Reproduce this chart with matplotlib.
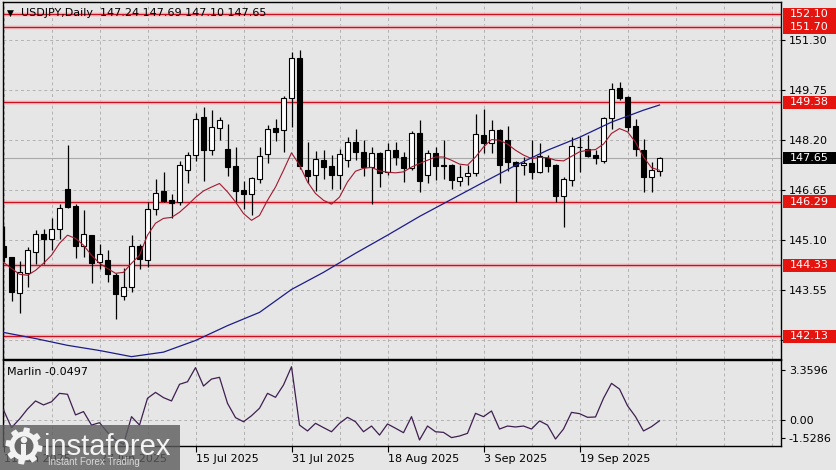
import numpy as np
import matplotlib.pyplot as plt
from matplotlib.patches import Rectangle, Circle, Polygon

# ---- data (USDJPY daily, 11 Jun .. 3 Oct 2025) ----
opens = [144.91, 144.57, 143.47, 144.08, 144.74, 145.29, 145.14, 145.45, 146.70, 146.15,
         144.94, 145.26, 144.43, 144.48, 144.03, 143.39, 143.65, 144.94, 144.48, 146.08,
         146.62, 146.34, 146.29, 147.27, 147.74, 148.92, 147.89, 148.59, 147.94, 147.39,
         146.65, 146.53, 147.01, 147.76, 148.58, 148.51, 149.51, 150.76, 147.27, 147.12,
         147.60, 147.39, 147.12, 147.58, 148.15, 147.84, 147.37, 147.81, 147.22, 147.89,
         147.68, 147.35, 148.41, 147.12, 147.80, 147.42, 147.43, 146.95, 147.10, 147.19,
         148.36, 148.10, 148.51, 148.20, 147.53, 147.42, 147.49, 147.22, 147.66, 147.43,
         146.46, 146.98, 147.99, 147.94, 147.74, 147.55, 148.90, 149.83, 149.53, 148.63,
         147.91, 147.06, 147.24]
highs = [145.53, 144.60, 144.45, 144.89, 145.43, 145.46, 145.80, 146.22, 148.05, 146.22,
         146.03, 145.28, 144.98, 144.81, 144.08, 144.23, 145.26, 144.98, 146.29, 147.01,
         147.22, 146.55, 147.56, 147.84, 149.05, 149.23, 149.15, 148.92, 148.69, 147.99,
         146.93, 147.06, 147.99, 148.67, 148.85, 149.57, 150.94, 150.99, 148.13, 147.86,
         147.91, 147.74, 147.94, 148.30, 148.56, 148.20, 147.99, 147.84, 148.10, 148.15,
         147.84, 148.49, 148.82, 147.91, 147.99, 148.22, 147.47, 147.43, 147.43, 149.01,
         149.18, 148.84, 148.56, 148.63, 147.55, 147.68, 148.22, 148.10, 147.74, 147.47,
         147.06, 148.29, 148.30, 148.36, 147.91, 148.92, 149.98, 150.00, 149.56, 148.87,
         148.25, 147.52, 147.69]
lows = [144.42, 143.21, 142.84, 143.67, 144.38, 144.38, 144.79, 145.14, 146.09, 144.55,
        144.60, 143.78, 144.22, 143.81, 142.67, 143.24, 143.49, 144.20, 144.27, 145.87,
        146.29, 145.79, 146.19, 146.88, 147.56, 146.94, 147.74, 148.22, 147.09, 146.29,
        146.08, 145.90, 146.86, 147.51, 148.17, 147.82, 148.61, 147.30, 146.89, 146.63,
        147.01, 146.68, 146.70, 147.37, 147.58, 147.08, 146.24, 146.75, 147.12, 147.43,
        146.91, 147.27, 146.60, 146.86, 146.98, 147.01, 146.70, 146.77, 146.81, 147.08,
        147.79, 147.79, 146.86, 147.25, 146.29, 147.13, 147.01, 147.17, 147.21, 146.29,
        145.51, 146.78, 147.22, 147.67, 147.46, 147.50, 148.56, 149.44, 148.49, 147.70,
        146.60, 146.60, 147.10]
closes = [144.57, 143.49, 144.12, 144.79, 145.29, 145.13, 145.46, 146.11, 146.13, 144.92,
          145.29, 144.41, 144.67, 144.05, 143.44, 143.67, 144.93, 144.53, 146.08, 146.57,
          146.32, 146.27, 147.42, 147.74, 148.87, 147.91, 148.61, 148.84, 147.37, 146.63,
          146.52, 147.03, 147.70, 148.56, 148.46, 149.52, 150.76, 147.40, 147.09, 147.63,
          147.37, 147.13, 147.77, 148.15, 147.84, 147.37, 147.79, 147.19, 147.89, 147.68,
          147.35, 148.41, 146.94, 147.79, 147.41, 147.40, 146.96, 147.07, 147.20, 148.39,
          148.12, 148.51, 147.43, 147.53, 147.40, 147.50, 147.22, 147.70, 147.39, 146.46,
          147.01, 148.01, 148.00, 147.72, 147.66, 148.90, 149.80, 149.52, 148.61, 147.94,
          147.06, 147.27, 147.65]

# red (fast) moving average, one value per candle
ma_fast = [144.42, 144.23, 144.05, 144.02, 144.17, 144.39, 144.64, 145.01, 145.26, 145.16,
           144.95, 144.64, 144.39, 144.23, 144.08, 144.11, 144.39, 144.64, 145.26, 145.63,
           145.78, 145.81, 145.97, 146.19, 146.43, 146.63, 146.75, 146.86, 146.60, 146.29,
           145.93, 145.72, 145.87, 146.34, 146.75, 147.27, 147.81, 147.43, 146.91, 146.55,
           146.34, 146.22, 146.44, 146.91, 147.24, 147.33, 147.36, 147.25, 147.21, 147.19,
           147.22, 147.37, 147.48, 147.58, 147.68, 147.68, 147.58, 147.46, 147.43, 147.68,
           147.99, 148.22, 148.20, 148.08, 147.89, 147.74, 147.63, 147.67, 147.66, 147.58,
           147.56, 147.70, 147.84, 147.89, 147.91, 148.08, 148.41, 148.56, 148.46, 148.14,
           147.68, 147.35, 147.27]

# blue (slow) moving average, read every 4th candle
ma_slow_idx = [0, 4, 8, 12, 16, 20, 24, 28, 32, 36, 40, 44, 48, 52, 56, 60, 64, 68, 72, 76, 80, 82]
ma_slow = [142.25, 142.06, 141.85, 141.69, 141.50, 141.64, 142.00, 142.46, 142.87, 143.58, 144.11,
           144.70, 145.26, 145.84, 146.37, 146.90, 147.42, 147.89, 148.29, 148.76, 149.13, 149.29]

marlin = [0.63, -0.48, 0.06, 0.69, 1.20, 0.95, 1.15, 1.68, 1.62, 0.32,
          0.53, -0.32, -0.17, -0.78, -1.26, -1.5286, 0.21, -0.32, 1.37, 1.74,
          1.41, 1.20, 2.25, 2.41, 3.30, 2.14, 2.58, 2.69, 1.05, 0.15,
          -0.11, 0.27, 0.74, 1.68, 1.43, 2.21, 3.3596, -0.32, -0.69, -0.21,
          -0.48, -0.74, -0.21, 0.17, -0.11, -0.74, -0.38, -0.95, -0.25, -0.52,
          -0.80, 0.21, -1.26, -0.38, -0.74, -0.78, -1.11, -1.01, -0.84, 0.42,
          0.21, 0.57, -0.57, -0.38, -0.44, -0.38, -0.57, -0.06, -0.32, -1.20,
          -0.57, 0.48, 0.40, 0.17, 0.19, 1.37, 2.31, 1.95, 0.90, 0.21,
          -0.69, -0.42, -0.0497]

date_idx = [0, 12, 24, 36, 48, 60, 72]
date_labels = ['11 Jun 2025', '27 Jun 2025', '15 Jul 2025', '31 Jul 2025',
               '18 Aug 2025', '3 Sep 2025', '19 Sep 2025']
levels = [152.10, 151.70, 149.38, 146.29, 144.33, 142.13]
price_ticks = [142.00, 143.55, 145.10, 146.65, 148.20, 149.75, 151.30]
last_price = 147.65
title = 'USDJPY,Daily  147.24 147.69 147.10 147.65'

BG = '#e6e6e6'
GRID = '#b2b2b2'
LVL = '#c8101e'
plt.rcParams['font.family'] = ['DejaVu Sans']

fig = plt.figure(figsize=(8.37, 4.70), dpi=100, facecolor=BG)
ax = fig.add_axes([0.003, 0.2372, 0.9295, 0.7585], facecolor=BG)
ax2 = fig.add_axes([0.003, 0.0517, 0.9295, 0.1823], facecolor=BG)

x = np.arange(len(closes))
o = np.array(opens)
c = np.array(closes)
up = c >= o
xlim = (-0.125, 97.125)

# grid
for a in (ax, ax2):
    for gx in range(0, 98, 6):
        a.axvline(gx, color=GRID, lw=0.7, ls=(0, (3, 3)), zorder=0.5)
for t in price_ticks:
    ax.axhline(t, color=GRID, lw=0.7, ls=(0, (3, 3)), zorder=0.5)
ax2.axhline(0, color=GRID, lw=0.7, ls=(0, (3, 3)), zorder=0.5)

# levels and bid line
for lv in levels:
    ax.axhline(lv, color='#f3c6ca', lw=3.5, alpha=0.7, zorder=1)
    ax.axhline(lv, color=LVL, lw=1.0, zorder=1.5)
ax.axhline(last_price, color='#a9a9a9', lw=0.8, zorder=1.2)

# candles
ax.vlines(x, lows, highs, color='black', lw=0.9, zorder=3)
ax.bar(x[up], (c - o)[up], bottom=o[up], width=0.62, color='white',
       edgecolor='black', lw=0.8, zorder=4)
ax.bar(x[~up], (o - c)[~up], bottom=c[~up], width=0.62, color='black',
       edgecolor='black', lw=0.8, zorder=4)

ax.plot(x, ma_fast, color='#a3182e', lw=0.8, zorder=5)
ax.plot(ma_slow_idx, ma_slow, color='#1c1c8a', lw=0.9, zorder=5)

ax.set_xlim(*xlim)
ax.set_ylim(141.442, 152.478)
ax.yaxis.tick_right()
ax.set_yticks(price_ticks)
# 142.00 sits under the 142.13 level label, so its text is left out
ax.set_yticklabels(['' if t == 142.00 else f'{t:.2f}' for t in price_ticks])
ax.tick_params(axis='y', direction='out', length=3, width=0.8, pad=3, labelsize=8)
ax.tick_params(axis='x', bottom=False, labelbottom=False)

ytr = ax.get_yaxis_transform()
bw = 53 / 778
for lv in levels:
    ax.add_patch(Rectangle((1.003, lv - 0.2), bw, 0.40, transform=ytr, fc='#e5140f',
                           ec='none', clip_on=False, zorder=10))
    ax.text(1.003 + bw / 2, lv, f'{lv:.2f}', transform=ytr, ha='center', va='center',
            color='white', fontsize=8, zorder=11, clip_on=False)
ax.add_patch(Rectangle((1.003, last_price - 0.2), bw, 0.40, transform=ytr, fc='black',
                       ec='none', clip_on=False, zorder=10))
ax.text(1.003 + bw / 2, last_price, f'{last_price:.2f}', transform=ytr, ha='center',
        va='center', color='white', fontsize=8, zorder=11, clip_on=False)

# Marlin oscillator
ax2.plot(x, marlin, color='#3e1f50', lw=0.9, zorder=3)
ax2.set_xlim(*xlim)
ax2.set_ylim(-1.62, 3.78)
ax2.yaxis.tick_right()
ax2.set_yticks([3.15, 0.0, -1.13])
ax2.set_yticklabels(['3.3596', '0.00', '-1.5286'])
ax2.tick_params(axis='y', direction='out', length=3, width=0.8, pad=3, labelsize=8)
ax2.set_xticks(date_idx)
ax2.set_xticklabels(date_labels)
ax2.tick_params(axis='x', direction='out', length=4, width=0.8, pad=2, labelsize=8)
for lbl in ax2.get_xticklabels():
    lbl.set_horizontalalignment('left')

for a in (ax, ax2):
    for s in a.spines.values():
        s.set_color('black')
        s.set_linewidth(1.0)

# overlay in pixel coordinates: titles and logo
ov = fig.add_axes([0, 0, 1, 1])
ov.set_xlim(0, 837)
ov.set_ylim(470, 0)
ov.axis('off')
ov.patch.set_alpha(0)

ov.text(7, 13, '\u25bc', fontsize=6.5, va='center', ha='left', color='black')
ov.text(21, 13, title, fontsize=8, va='center', ha='left', color='black')
ov.text(7, 372, 'Marlin -0.0497', fontsize=8, va='center', ha='left', color='black')

ov.add_patch(Rectangle((0, 425), 180, 45, fc='#5c5c5c', ec='none', alpha=0.8))
ang = np.linspace(0, 2 * np.pi, 97)
rad = np.where((np.arange(97) // 6) % 2 == 0, 18.5, 14.5)
gear = np.column_stack([24 + rad * np.cos(ang), 446 + rad * np.sin(ang)])
ov.add_patch(Polygon(gear, closed=True, fc='#f2f2f2', ec='none'))
ov.add_patch(Circle((24, 446), 9.5, fc='#686868', ec='none'))
ov.add_patch(Circle((24, 440), 3.2, fc='#f2f2f2', ec='none'))
ov.add_patch(Rectangle((21.5, 444), 5, 12, fc='#f2f2f2', ec='none'))
ov.text(44, 455, 'instaforex', fontsize=21, family='Liberation Sans', color='#f4f4f4',
        ha='left', va='baseline')
ov.text(48, 465, 'Instant Forex Trading', fontsize=7, family='Liberation Sans',
        color='#d8d8d8', ha='left', va='baseline')

fig.savefig('out.png', dpi=100, facecolor=BG)
